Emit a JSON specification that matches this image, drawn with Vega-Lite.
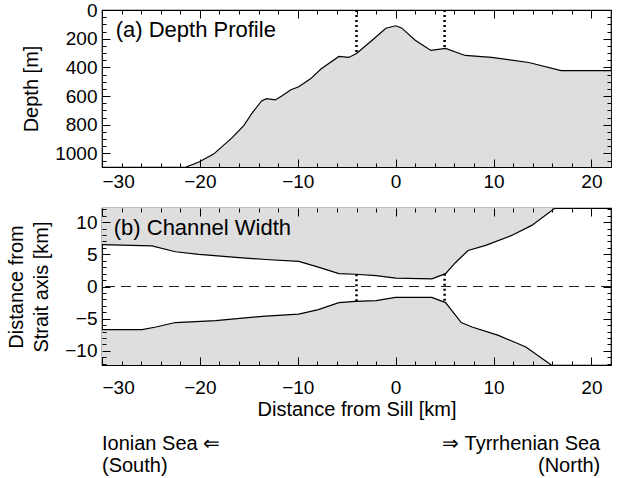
{
  "$schema": "https://vega.github.io/schema/vega-lite/v6.json",
  "padding": {"left": 6, "top": 0, "right": 5, "bottom": 0},
  "spacing": 14,
  "datasets": {
    "depth": [
      {"x": -21.4, "depth": 1095},
      {"x": -20.1, "depth": 1060},
      {"x": -18.6, "depth": 1005},
      {"x": -16.7, "depth": 890},
      {"x": -15.5, "depth": 805},
      {"x": -14.7, "depth": 722},
      {"x": -13.7, "depth": 634},
      {"x": -13.2, "depth": 618},
      {"x": -12.3, "depth": 627},
      {"x": -11.6, "depth": 598},
      {"x": -10.7, "depth": 556},
      {"x": -9.9, "depth": 535},
      {"x": -8.7, "depth": 480},
      {"x": -7.6, "depth": 410},
      {"x": -5.8, "depth": 324},
      {"x": -4.8, "depth": 331},
      {"x": -4.0, "depth": 303},
      {"x": -2.4, "depth": 211},
      {"x": -1.0, "depth": 127},
      {"x": 0.0, "depth": 110},
      {"x": 0.6, "depth": 125},
      {"x": 2.0, "depth": 211},
      {"x": 3.6, "depth": 282},
      {"x": 5.1, "depth": 268},
      {"x": 7.1, "depth": 317},
      {"x": 9.8, "depth": 331},
      {"x": 13.6, "depth": 366},
      {"x": 16.9, "depth": 423},
      {"x": 22.0, "depth": 423}
    ],
    "upper": [
      {"x": -30, "w": 6.5},
      {"x": -24.9, "w": 6.3},
      {"x": -22.5, "w": 5.4},
      {"x": -20.1, "w": 5.0},
      {"x": -16.0, "w": 4.5},
      {"x": -13.3, "w": 4.2},
      {"x": -9.9, "w": 3.9},
      {"x": -7.9, "w": 3.0},
      {"x": -5.8, "w": 2.0},
      {"x": -4.1, "w": 1.9},
      {"x": -2.0, "w": 1.7},
      {"x": 0.0, "w": 1.3},
      {"x": 3.7, "w": 1.2},
      {"x": 5.1, "w": 2.0},
      {"x": 6.1, "w": 3.7},
      {"x": 7.4, "w": 5.6},
      {"x": 9.2, "w": 6.4},
      {"x": 11.8, "w": 7.9},
      {"x": 13.9, "w": 9.5},
      {"x": 16.3, "w": 12.2}
    ],
    "lower": [
      {"x": -30, "w": -6.7},
      {"x": -25.9, "w": -6.7},
      {"x": -24.5, "w": -6.3},
      {"x": -22.5, "w": -5.6},
      {"x": -18.4, "w": -5.3},
      {"x": -13.3, "w": -4.6},
      {"x": -9.9, "w": -4.3},
      {"x": -7.9, "w": -3.6},
      {"x": -5.8, "w": -2.5},
      {"x": -4.1, "w": -2.3},
      {"x": -2.0, "w": -2.2},
      {"x": 0.0, "w": -1.7},
      {"x": 3.7, "w": -1.7},
      {"x": 5.1, "w": -2.5},
      {"x": 6.7, "w": -5.6},
      {"x": 7.8, "w": -6.3},
      {"x": 10.5, "w": -7.6},
      {"x": 13.3, "w": -9.4},
      {"x": 15.9, "w": -12.2}
    ],
    "sills": [
      {"x": -4, "surface": 0, "depth": 303, "top": 1.9, "bottom": -2.3},
      {"x": 5, "surface": 0, "depth": 268, "top": 2.0, "bottom": -2.5}
    ],
    "axisline": [
      {"axis": 0}
    ],
    "south": [
      {"line": 1, "text": "Ionian Sea ⇐"},
      {"line": 2, "text": "(South)"}
    ],
    "north": [
      {"line": 1, "text": "⇒ Tyrrhenian Sea"},
      {"line": 2, "text": "(North)"}
    ]
  },
  "vconcat": [
    {
      "width": 509,
      "height": 157,
      "layer": [
        {
          "data": {"name": "depth"},
          "mark": {"type": "area", "fill": "#dedede", "clip": true},
          "encoding": {
            "x": {"field": "x", "type": "quantitative", "scale": {"domain": [-30, 22], "nice": false, "zero": false},
              "axis": {"orient": "bottom", "values": [-30, -20, -10, 0, 10, 20], "format": "d", "tickSize": 8, "offset": -8, "labelPadding": 5, "labelFontSize": 19, "title": null, "zindex": 2}},
            "y": {"field": "depth", "type": "quantitative", "scale": {"domain": [0, 1095], "reverse": true, "nice": false, "zero": false},
              "axis": {"orient": "left", "values": [0, 200, 400, 600, 800, 1000], "format": "d", "tickSize": 8, "offset": -8, "labelPadding": 5, "labelFontSize": 19, "title": "Depth [m]", "titleFontSize": 20, "titlePadding": 13, "zindex": 2}},
            "y2": {"datum": 1095}
          }
        },
        {
          "data": {"name": "depth"},
          "mark": {"type": "line", "color": "black", "strokeWidth": 1.2, "clip": true},
          "encoding": {
            "x": {"field": "x", "type": "quantitative", "scale": {"domain": [-30, 22], "nice": false, "zero": false},
              "axis": {"orient": "bottom", "values": [-28, -26, -24, -22, -18, -16, -14, -12, -8, -6, -4, -2, 2, 4, 6, 8, 12, 14, 16, 18], "tickSize": 4, "offset": -4, "labels": false, "title": null, "zindex": 2}},
            "y": {"field": "depth", "type": "quantitative", "scale": {"domain": [0, 1095], "reverse": true, "nice": false, "zero": false},
              "axis": {"orient": "left", "values": [50, 100, 150, 250, 300, 350, 450, 500, 550, 650, 700, 750, 850, 900, 950, 1050], "tickSize": 4, "offset": -4, "labels": false, "title": null, "zindex": 2}}
          }
        },
        {
          "data": {"name": "sills"},
          "mark": {"type": "rule", "color": "black", "strokeWidth": 2.5, "strokeDash": [2, 3]},
          "encoding": {
            "x": {"field": "x", "type": "quantitative", "scale": {"domain": [-30, 22], "nice": false, "zero": false},
              "axis": {"orient": "top", "values": [-30, -20, -10, 0, 10, 20], "tickSize": 8, "offset": -8, "labels": false, "title": null, "zindex": 2}},
            "y": {"field": "surface", "type": "quantitative", "scale": {"domain": [0, 1095], "reverse": true, "nice": false, "zero": false},
              "axis": {"orient": "right", "values": [0, 200, 400, 600, 800, 1000], "tickSize": 8, "offset": -8, "labels": false, "title": null, "zindex": 2}},
            "y2": {"field": "depth"}
          }
        },
        {
          "data": {"name": "axisline"},
          "mark": {"type": "text", "text": "(a) Depth Profile", "align": "left", "baseline": "middle", "fontSize": 22},
          "encoding": {
            "x": {"datum": -28.6, "type": "quantitative", "scale": {"domain": [-30, 22], "nice": false, "zero": false},
              "axis": {"orient": "top", "values": [-28, -26, -24, -22, -18, -16, -14, -12, -8, -6, -4, -2, 2, 4, 6, 8, 12, 14, 16, 18], "tickSize": 4, "offset": -4, "labels": false, "title": null, "zindex": 2}},
            "y": {"datum": 140, "type": "quantitative", "scale": {"domain": [0, 1095], "reverse": true, "nice": false, "zero": false},
              "axis": {"orient": "right", "values": [50, 100, 150, 250, 300, 350, 450, 500, 550, 650, 700, 750, 850, 900, 950, 1050], "tickSize": 4, "offset": -4, "labels": false, "title": null, "zindex": 2}}
          }
        }
      ],
      "resolve": {"axis": {"x": "independent", "y": "independent"}}
    },
    {
      "width": 509,
      "height": 157,
      "layer": [
        {
          "data": {"name": "upper"},
          "mark": {"type": "area", "fill": "#dedede", "clip": true},
          "encoding": {
            "x": {"field": "x", "type": "quantitative", "scale": {"domain": [-30, 22], "nice": false, "zero": false},
              "axis": {"orient": "bottom", "values": [-30, -20, -10, 0, 10, 20], "format": "d", "tickSize": 8, "offset": -8, "labelPadding": 13, "labelFontSize": 19, "title": "Distance from Sill [km]", "titleFontSize": 20, "titlePadding": 2, "zindex": 2}},
            "y": {"field": "w", "type": "quantitative", "scale": {"domain": [-12.2, 12.2], "nice": false, "zero": false},
              "axis": {"orient": "left", "values": [-10, -5, 0, 5, 10], "format": "d", "tickSize": 8, "offset": -8, "labelPadding": 5, "labelFontSize": 19, "title": ["Distance from", "Strait axis [km]"], "titleFontSize": 20, "titleLineHeight": 25, "titlePadding": 13, "zindex": 2}},
            "y2": {"datum": 12.2}
          }
        },
        {
          "data": {"name": "lower"},
          "mark": {"type": "area", "fill": "#dedede", "clip": true},
          "encoding": {
            "x": {"field": "x", "type": "quantitative", "scale": {"domain": [-30, 22], "nice": false, "zero": false},
              "axis": {"orient": "bottom", "values": [-28, -26, -24, -22, -18, -16, -14, -12, -8, -6, -4, -2, 2, 4, 6, 8, 12, 14, 16, 18], "tickSize": 4, "offset": -4, "labels": false, "title": null, "zindex": 2}},
            "y": {"field": "w", "type": "quantitative", "scale": {"domain": [-12.2, 12.2], "nice": false, "zero": false},
              "axis": {"orient": "left", "values": [-12, -11, -9, -8, -7, -6, -4, -3, -2, -1, 1, 2, 3, 4, 6, 7, 8, 9, 11, 12], "tickSize": 4, "offset": -4, "labels": false, "title": null, "zindex": 2}},
            "y2": {"datum": -12.2}
          }
        },
        {
          "data": {"name": "upper"},
          "mark": {"type": "line", "color": "black", "strokeWidth": 1.2, "clip": true},
          "encoding": {
            "x": {"field": "x", "type": "quantitative", "scale": {"domain": [-30, 22], "nice": false, "zero": false},
              "axis": {"orient": "top", "values": [-30, -20, -10, 0, 10, 20], "tickSize": 8, "offset": -8, "labels": false, "title": null, "zindex": 2}},
            "y": {"field": "w", "type": "quantitative", "scale": {"domain": [-12.2, 12.2], "nice": false, "zero": false},
              "axis": {"orient": "right", "values": [-10, -5, 0, 5, 10], "tickSize": 8, "offset": -8, "labels": false, "title": null, "zindex": 2}}
          }
        },
        {
          "data": {"name": "lower"},
          "mark": {"type": "line", "color": "black", "strokeWidth": 1.2, "clip": true},
          "encoding": {
            "x": {"field": "x", "type": "quantitative", "scale": {"domain": [-30, 22], "nice": false, "zero": false},
              "axis": {"orient": "top", "values": [-28, -26, -24, -22, -18, -16, -14, -12, -8, -6, -4, -2, 2, 4, 6, 8, 12, 14, 16, 18], "tickSize": 4, "offset": -4, "labels": false, "title": null, "zindex": 2}},
            "y": {"field": "w", "type": "quantitative", "scale": {"domain": [-12.2, 12.2], "nice": false, "zero": false},
              "axis": {"orient": "right", "values": [-12, -11, -9, -8, -7, -6, -4, -3, -2, -1, 1, 2, 3, 4, 6, 7, 8, 9, 11, 12], "tickSize": 4, "offset": -4, "labels": false, "title": null, "zindex": 2}}
          }
        },
        {
          "data": {"name": "axisline"},
          "mark": {"type": "rule", "color": "#222222", "strokeWidth": 1, "strokeDash": [10, 6]},
          "encoding": {
            "y": {"field": "axis", "type": "quantitative", "scale": {"domain": [-12.2, 12.2], "nice": false, "zero": false}, "axis": null}
          }
        },
        {
          "data": {"name": "sills"},
          "mark": {"type": "rule", "color": "black", "strokeWidth": 2.5, "strokeDash": [2, 3]},
          "encoding": {
            "x": {"field": "x", "type": "quantitative", "scale": {"domain": [-30, 22], "nice": false, "zero": false}, "axis": null},
            "y": {"field": "top", "type": "quantitative", "scale": {"domain": [-12.2, 12.2], "nice": false, "zero": false}, "axis": null},
            "y2": {"field": "bottom"}
          }
        },
        {
          "data": {"name": "axisline"},
          "mark": {"type": "text", "text": "(b) Channel Width", "align": "left", "baseline": "middle", "fontSize": 22},
          "encoding": {
            "x": {"datum": -28.8, "type": "quantitative", "scale": {"domain": [-30, 22], "nice": false, "zero": false}, "axis": null},
            "y": {"datum": 9.1, "type": "quantitative", "scale": {"domain": [-12.2, 12.2], "nice": false, "zero": false}, "axis": null}
          }
        }
      ],
      "resolve": {"axis": {"x": "independent", "y": "independent"}}
    },
    {
      "width": 509,
      "height": 34,
      "view": {"stroke": null},
      "layer": [
        {
          "data": {"name": "south"},
          "mark": {"type": "text", "align": "left", "baseline": "middle", "fontSize": 20},
          "encoding": {
            "x": {"datum": -30, "type": "quantitative", "scale": {"domain": [-30, 22], "nice": false, "zero": false}, "axis": null},
            "y": {"field": "line", "type": "ordinal", "scale": {"type": "point", "padding": 0.273}, "axis": null},
            "text": {"field": "text"}
          }
        },
        {
          "data": {"name": "north"},
          "mark": {"type": "text", "align": "right", "baseline": "middle", "fontSize": 20},
          "encoding": {
            "x": {"datum": 20.9, "type": "quantitative", "scale": {"domain": [-30, 22], "nice": false, "zero": false}, "axis": null},
            "y": {"field": "line", "type": "ordinal", "scale": {"type": "point", "padding": 0.273}, "axis": null},
            "text": {"field": "text"}
          }
        }
      ]
    }
  ],
  "config": {
    "font": "Liberation Sans",
    "view": {"stroke": "black", "strokeWidth": 1.2},
    "axis": {
      "domain": false,
      "grid": false,
      "labelFont": "Liberation Sans",
      "labelFontSize": 19,
      "labelColor": "black",
      "titleFont": "Liberation Sans",
      "titleFontSize": 20,
      "titleFontWeight": "normal",
      "titleColor": "black",
      "tickColor": "black",
      "tickWidth": 1
    },
    "text": {"font": "Liberation Sans", "fontSize": 20, "color": "black"}
  }
}
